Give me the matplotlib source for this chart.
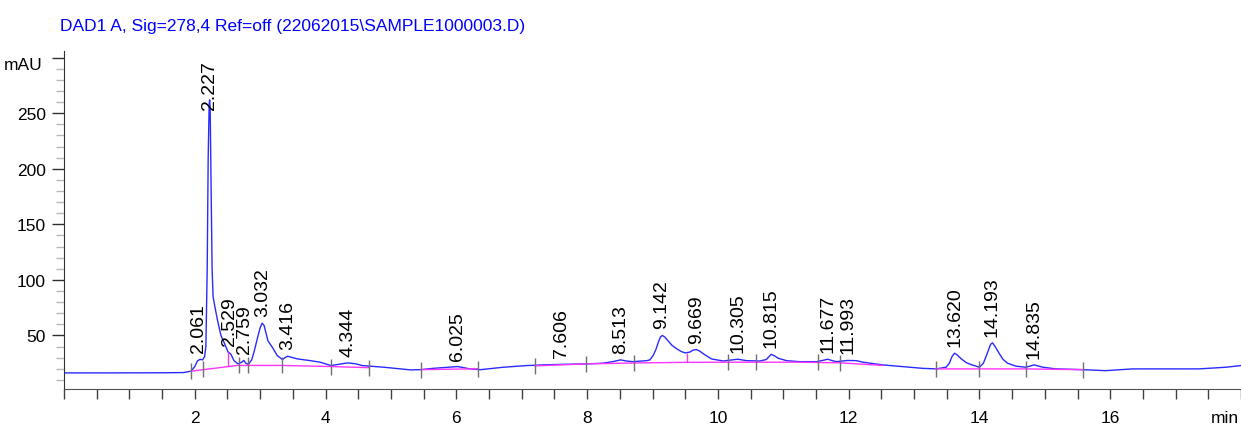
import numpy as np
import matplotlib
matplotlib.use("Agg")
from matplotlib import pyplot as plt
from matplotlib.ticker import MultipleLocator, FixedLocator

plt.rcParams["font.family"] = ["Liberation Sans", "DejaVu Sans"]

# detector trace (min, mAU)
time = [0.00, 0.80, 1.50, 1.83, 1.94, 2.00, 2.04, 2.08, 2.12, 2.15, 2.17, 2.19,
        2.205, 2.22, 2.227, 2.235, 2.25, 2.265, 2.28, 2.31, 2.35, 2.40, 2.46, 2.51,
        2.55, 2.60, 2.66, 2.72, 2.75, 2.78, 2.82, 2.87, 2.91, 2.96, 3.00, 3.03,
        3.06, 3.09, 3.12, 3.19, 3.26, 3.34, 3.38, 3.42, 3.50, 3.57, 3.77, 3.92,
        4.08, 4.20, 4.34, 4.46, 4.56, 4.69, 4.89, 5.15, 5.30, 5.45, 5.65, 5.91,
        6.02, 6.21, 6.37, 6.72, 7.08, 7.33, 7.63, 8.00, 8.24, 8.40, 8.51, 8.60,
        8.70, 8.91, 8.96, 9.01, 9.05, 9.09, 9.12, 9.15, 9.19, 9.24, 9.30, 9.37,
        9.44, 9.50, 9.57, 9.62, 9.67, 9.72, 9.78, 9.90, 10.08, 10.23, 10.305, 10.44,
        10.64, 10.74, 10.815, 10.87, 10.92, 11.05, 11.25, 11.51, 11.60, 11.68, 11.74, 11.81,
        11.90, 11.99, 12.12, 12.22, 12.52, 12.83, 13.13, 13.34, 13.49, 13.54, 13.58, 13.62,
        13.66, 13.72, 13.80, 13.87, 14.00, 14.06, 14.12, 14.17, 14.20, 14.24, 14.30, 14.36,
        14.43, 14.56, 14.71, 14.78, 14.835, 14.90, 14.97, 15.17, 15.58, 15.93, 16.34, 17.36,
        17.77, 18.00]
signal = [16.3, 16.3, 16.4, 16.6, 17.8, 22.0, 27.0, 28.5, 28.0, 31.0, 40.0, 110.0,
          210.0, 258.0, 262.0, 255.0, 180.0, 110.0, 85.0, 75.0, 63.0, 50.0, 42.0, 35.0,
          33.4, 27.3, 24.4, 26.0, 27.5, 25.0, 24.0, 28.0, 36.0, 48.0, 57.0, 61.0,
          59.0, 52.0, 45.0, 39.0, 32.0, 28.3, 30.0, 31.3, 30.0, 28.9, 27.3, 25.9,
          22.9, 24.0, 25.3, 24.5, 22.9, 22.3, 21.4, 19.9, 19.0, 19.2, 20.4, 21.5,
          22.0, 19.9, 19.2, 21.4, 22.9, 23.5, 24.0, 24.4, 25.0, 26.5, 28.0, 27.0,
          26.4, 27.3, 28.0, 32.0, 37.0, 44.0, 48.5, 50.0, 48.5, 45.0, 41.0, 38.0,
          35.5, 34.3, 35.0, 36.8, 37.3, 36.0, 33.4, 28.9, 27.0, 28.0, 28.6, 27.3,
          27.0, 28.3, 33.0, 31.5, 29.5, 27.3, 26.4, 26.4, 27.5, 28.6, 27.5, 26.4,
          27.0, 27.5, 27.3, 25.9, 23.5, 21.9, 20.4, 19.9, 21.4, 25.0, 31.0, 34.0,
          32.5, 29.0, 25.5, 23.8, 21.4, 25.0, 34.0, 42.0, 43.3, 40.0, 34.0, 28.5,
          25.0, 22.3, 21.4, 22.5, 23.5, 22.5, 21.4, 19.9, 19.2, 18.3, 19.9, 19.9,
          21.4, 22.9]

# integration baselines (nan = gap between segments)
base_t = [1.94, 2.65, 3.34, 4.08, 4.67, np.nan,
          5.46, 6.33, np.nan,
          7.20, 7.99, 8.71, 9.52, 10.16, 10.59, 11.25, 11.86, 12.52, np.nan,
          13.33, 14.00, 14.71, 15.59]
base_v = [17.8, 23.0, 23.0, 22.0, 21.0, np.nan,
          19.2, 20.0, np.nan,
          22.6, 24.4, 25.2, 25.8, 25.9, 25.9, 25.9, 25.4, 23.0, np.nan,
          19.9, 19.9, 19.9, 19.2]

# peak start/end marks
mark_t = [1.94, 2.12, 2.67, 2.82, 3.34, 4.09, 4.67, 5.46, 6.33, 7.20, 7.99,
          8.71, 10.16, 10.59, 11.53, 11.86, 13.33, 14.00, 14.71, 15.59]
mark_v = [17.8, 19.5, 23.0, 23.0, 23.0, 22.0, 21.0, 19.2, 20.0, 22.6, 24.4,
          25.2, 25.9, 25.9, 25.9, 25.4, 19.9, 19.9, 19.9, 19.2]

# perpendicular drops (time, baseline, signal)
drop_t = [2.51, 9.52]
drop_lo = [22.5, 25.8]
drop_hi = [35.0, 34.5]

# retention times and apex heights
peak_rt = [2.061, 2.227, 2.529, 2.759, 3.032, 3.416, 4.344, 6.025, 7.606, 8.513,
           9.142, 9.669, 10.305, 10.815, 11.677, 11.993, 13.620, 14.193, 14.835]
peak_h = [29.0, 262.0, 35.0, 27.5, 61.0, 31.3, 25.3, 22.0, 24.0, 28.0,
          50.0, 37.3, 28.6, 33.0, 28.6, 27.5, 34.0, 43.3, 23.5]

fig = plt.figure(figsize=(12.41, 4.27), dpi=100)
ax = fig.add_axes([64 / 1241, 37 / 427, 1 - 64 / 1241, 338 / 427])

ax.plot(time, signal, color="#2a2aff", lw=1.0)
ax.plot(base_t, base_v, color="#ff33ff", lw=1.0)
ax.vlines(drop_t, drop_lo, drop_hi, color="#ff33ff", lw=1.0)
ax.plot(mark_t, mark_v, ls="none", marker="|", ms=11, mew=1.0, color="#707070")

for rt, h in zip(peak_rt, peak_h):
    ax.annotate("%.3f" % rt, xy=(rt, min(h, 248)), xytext=(0, 5),
                textcoords="offset points", rotation=90, ha="center",
                va="bottom", fontsize=14)

ax.set_xlim(0, 18)
ax.set_ylim(1.8, 306)

for s in ["top", "right"]:
    ax.spines[s].set_visible(False)
ax.spines["left"].set_color("#303030")
ax.spines["bottom"].set_color("#505050")

ax.xaxis.set_major_locator(FixedLocator([2, 4, 6, 8, 10, 12, 14, 16]))
ax.xaxis.set_minor_locator(MultipleLocator(0.5))
ax.yaxis.set_major_locator(FixedLocator([50, 100, 150, 200, 250, 300]))
ax.yaxis.set_minor_locator(MultipleLocator(10))
ax.set_yticklabels(["50", "100", "150", "200", "250", ""])

ax.tick_params(axis="x", which="both", direction="out", length=7, width=1,
               color="#404040", labelsize=12.5, pad=8)
ax.tick_params(axis="y", which="major", direction="out", length=9, width=1,
               color="#303030", labelsize=12.5, pad=4)
ax.tick_params(axis="y", which="minor", direction="out", length=6, width=1,
               color="#b8b8b8")

fig.text(60 / 1241, 1 - 27 / 427,
         "DAD1 A, Sig=278,4 Ref=off (22062015\\SAMPLE1000003.D)",
         color="#0000ff", fontsize=12.5, ha="left", va="center")
fig.text(43 / 1241, 1 - 66 / 427, "mAU", fontsize=12.5, ha="right", va="center")
fig.text(1211 / 1241, 1 - 419 / 427, "min", fontsize=12.5, ha="left", va="center")

fig.savefig("out.png", dpi=100)
